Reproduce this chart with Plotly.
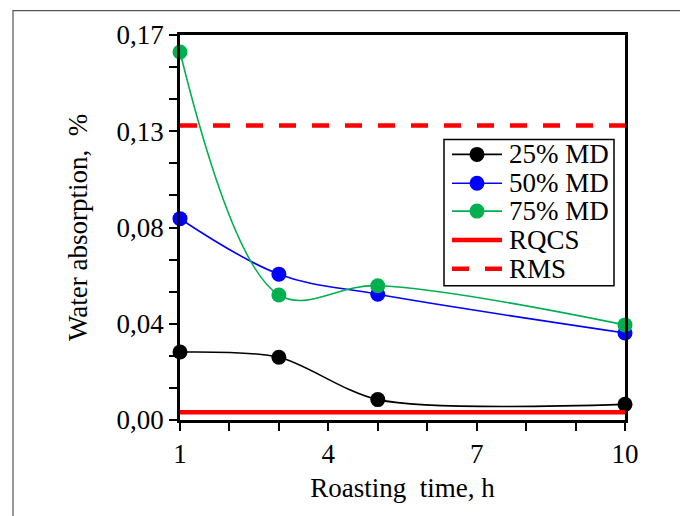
import plotly.graph_objects as go

time_h = [1, 3, 5, 10]
md25 = [0.0300, 0.0277, 0.0090, 0.0069]
md50 = [0.0889, 0.0644, 0.0555, 0.0384]
md75 = [0.1625, 0.0552, 0.0593, 0.0420]
rqcs = [0.0034, 0.0034]
rms = [0.130, 0.130]
limit_x = [1, 10]

y_tickvals = [0, 0.0425, 0.085, 0.1275, 0.17]
y_ticktext = ["0,00", "0,04", "0,08", "0,13", "0,17"]
x_tickvals = [1, 4, 7, 10]

series_names = ["25% MD", "50% MD", "75% MD", "RQCS", "RMS"]

FONT = "Liberation Serif, Times New Roman, serif"
FS = 27
W, H = 680, 508
L, R, T, B = 172, 63, 25, 96
PW, PH = W - L - R, H - T - B
DASH = "17px,16px"

def px(sx):  # screen x -> paper
    return (sx - 8 - L) / PW

def py(sy):  # screen y -> paper
    return (H - B - (sy - 8)) / PH

colors = ["black", "#0000ff", "#00b050"]
smooth = [0.8, 1.0, 1.0]

fig = go.Figure()
for name, vals, col, sm in zip(series_names[:3], [md25, md50, md75], colors, smooth):
    fig.add_trace(go.Scatter(x=time_h, y=vals, name=name, mode="lines+markers",
                             line=dict(color=col, width=1.6, shape="spline", smoothing=sm),
                             marker=dict(color=col, size=15), cliponaxis=False, showlegend=False))
fig.add_trace(go.Scatter(x=limit_x, y=rqcs, name=series_names[3], mode="lines",
                         line=dict(color="#ff0000", width=4.5), cliponaxis=False, showlegend=False))
fig.add_trace(go.Scatter(x=limit_x, y=rms, name=series_names[4], mode="lines",
                         line=dict(color="#ff0000", width=4.5, dash=DASH), cliponaxis=False, showlegend=False))

fig.update_layout(
    width=W, height=H,
    margin=dict(l=L, r=R, t=T, b=B),
    paper_bgcolor="white", plot_bgcolor="white",
    font=dict(family=FONT, size=FS, color="black"),
    showlegend=False,
    xaxis=dict(range=[1, 10], tickvals=x_tickvals, ticktext=[str(v) for v in x_tickvals],
               showline=True, linecolor="black", linewidth=2.5, mirror=True,
               ticks="outside", ticklen=8, tickwidth=2, tickcolor="black",
               minor=dict(ticks="outside", dtick=1, tick0=1, ticklen=8, tickwidth=2, tickcolor="black"),
               showgrid=False, zeroline=False,
               title=dict(text="Roasting  time, h", font=dict(family=FONT, size=FS), standoff=10)),
    yaxis=dict(range=[0, 0.17], tickvals=y_tickvals, ticktext=y_ticktext,
               showline=True, linecolor="black", linewidth=2.5, mirror=True,
               ticks="outside", ticklen=8, tickwidth=2, tickcolor="black",
               minor=dict(ticks="outside", dtick=0.0425 / 3, tick0=0, ticklen=8, tickwidth=2, tickcolor="black"),
               showgrid=False, zeroline=False,
               title=dict(text="Water absorption,  %", font=dict(family=FONT, size=FS), standoff=22)),
)

# outer frame
fig.add_shape(type="rect", xref="paper", yref="paper",
              x0=px(13), x1=px(683), y0=py(540), y1=(H - B - 0.5) / PH,
              line=dict(color="#555555", width=1.2), fillcolor="rgba(0,0,0,0)", layer="below")

# manual legend
fig.add_shape(type="rect", xref="paper", yref="paper",
              x0=px(444), x1=px(614), y0=py(285), y1=py(138),
              line=dict(color="black", width=1.5), fillcolor="white", layer="above")
rows = [153, 182, 210, 239, 268]
leg_styles = [
    dict(color="black", width=1.6, dash="solid", marker=True),
    dict(color="#0000ff", width=1.6, dash="solid", marker=True),
    dict(color="#00b050", width=1.6, dash="solid", marker=True),
    dict(color="#ff0000", width=4.5, dash="solid", marker=False),
    dict(color="#ff0000", width=4.5, dash=DASH, marker=False),
]
for name, ry, st in zip(series_names, rows, leg_styles):
    fig.add_shape(type="line", xref="paper", yref="paper",
                  x0=px(452), x1=px(502), y0=py(ry), y1=py(ry),
                  line=dict(color=st["color"], width=st["width"], dash=st["dash"]),
                  layer="above")
    if st["marker"]:
        fig.add_shape(type="circle", xref="paper", yref="paper",
                      xsizemode="pixel", ysizemode="pixel",
                      xanchor=px(477), yanchor=py(ry), x0=-7.5, x1=7.5, y0=-7.5, y1=7.5,
                      line=dict(color=st["color"], width=0), fillcolor=st["color"], layer="above")
    fig.add_annotation(xref="paper", yref="paper", x=px(507), y=py(ry),
                       xanchor="left", yanchor="middle", text=name, showarrow=False,
                       font=dict(family=FONT, size=FS, color="black"))

fig.write_html("out.html")
